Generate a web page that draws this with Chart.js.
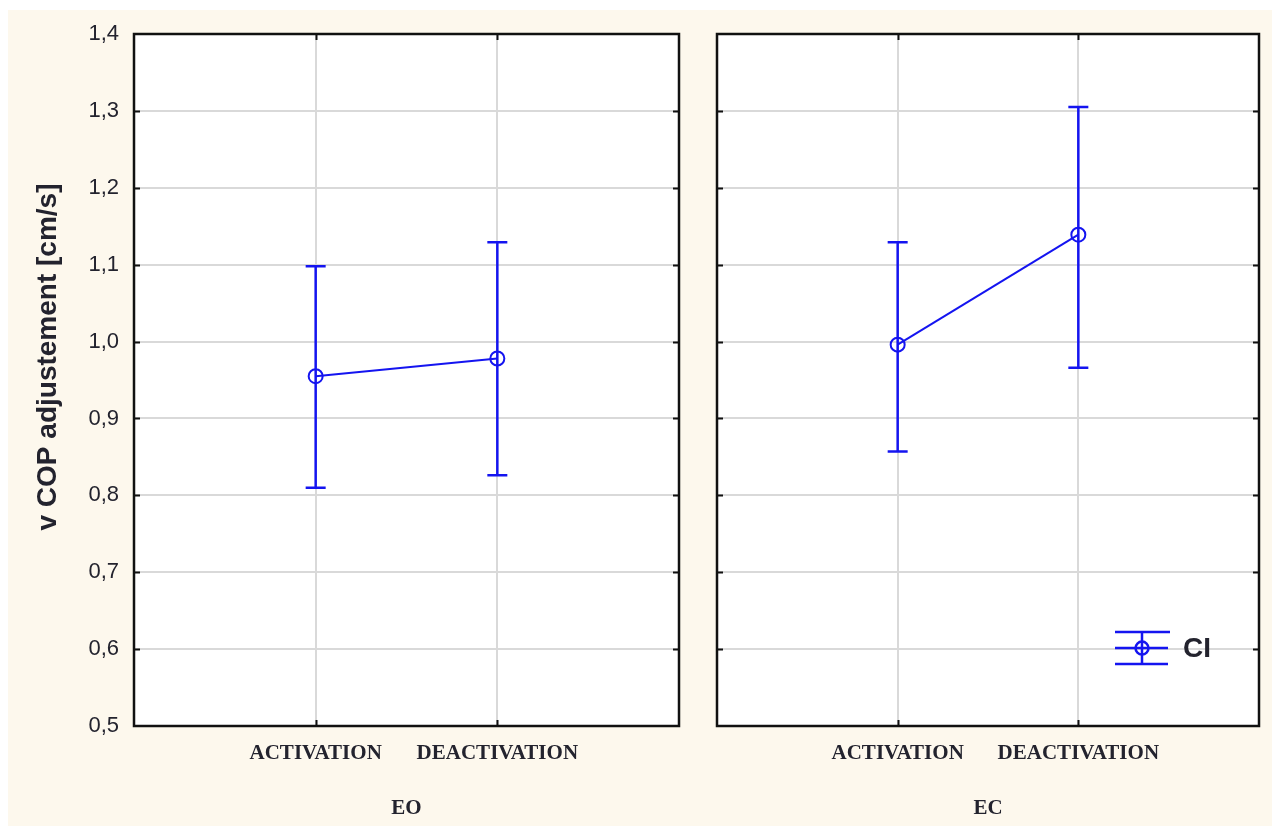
<!DOCTYPE html>
<html>
<head>
<meta charset="utf-8">
<script src="https://cdn.jsdelivr.net/npm/chart.js@4/dist/chart.umd.min.js"></script>
<style>
  html, body { margin: 0; padding: 0; background: #ffffff; }
  body { width: 1272px; height: 829px; position: relative; overflow: hidden; }
  #bg { position: absolute; left: 8px; top: 10px; width: 1264px; height: 816px; background: #fdf8ed; }
  #eo { position: absolute; left: 0; top: 0; }
  #ec { position: absolute; left: 695px; top: 0; }
</style>
</head>
<body>
<div id="bg"></div>
<canvas id="eo" width="695" height="829"></canvas>
<canvas id="ec" width="577" height="829"></canvas>
<script>
// Conditions on the x axis
const categories = ['ACTIVATION', 'DEACTIVATION'];
// Panels (visual condition)
const groups = ['EO', 'EC'];
// Y axis ticks
const yTickValues = [0.5, 0.6, 0.7, 0.8, 0.9, 1.0, 1.1, 1.2, 1.3, 1.4];
const yTickLabels = ['0,5', '0,6', '0,7', '0,8', '0,9', '1,0', '1,1', '1,2', '1,3', '1,4'];
const yTitle = 'v COP adjustement [cm/s]';
const legendLabel = 'CI';

// Means and confidence intervals, eyes open
const eoMean  = [0.955, 0.978];
const eoLower = [0.810, 0.826];
const eoUpper = [1.098, 1.129];
// Means and confidence intervals, eyes closed
const ecMean  = [0.996, 1.139];
const ecLower = [0.857, 0.966];
const ecUpper = [1.129, 1.305];

const BLUE = '#1414f0';
const GRID = '#d9d9d9';
const TEXT = '#23232e';

Chart.defaults.font.family = "'Liberation Sans', Arial, sans-serif";
Chart.defaults.color = TEXT;

// White plotting area
const plotBackground = {
  id: 'plotBackground',
  beforeDraw(chart) {
    const { ctx, chartArea: a } = chart;
    ctx.save();
    ctx.fillStyle = '#ffffff';
    ctx.fillRect(a.left, a.top, a.right - a.left, a.bottom - a.top);
    ctx.restore();
  }
};

// Vertical confidence-interval bars with caps
const errorBars = {
  id: 'errorBars',
  afterDatasetsDraw(chart) {
    const { ctx, scales: { x, y } } = chart;
    chart.data.datasets.forEach(ds => {
      if (!ds.lower) return;
      ctx.save();
      ctx.strokeStyle = BLUE;
      ctx.lineWidth = 2.5;
      ds.data.forEach((p, i) => {
        const px = x.getPixelForValue(p.x);
        const yl = y.getPixelForValue(ds.lower[i]);
        const yu = y.getPixelForValue(ds.upper[i]);
        ctx.beginPath();
        ctx.moveTo(px, yl); ctx.lineTo(px, yu);
        ctx.moveTo(px - 10, yl); ctx.lineTo(px + 10, yl);
        ctx.moveTo(px - 10, yu); ctx.lineTo(px + 10, yu);
        ctx.stroke();
      });
      ctx.restore();
    });
  }
};

// Black frame with inward tick marks on all four sides
const frame = {
  id: 'frame',
  afterDraw(chart) {
    const { ctx, chartArea: a, scales: { x, y } } = chart;
    ctx.save();
    ctx.strokeStyle = '#111111';
    ctx.lineWidth = 2.5;
    ctx.strokeRect(a.left, a.top, a.right - a.left, a.bottom - a.top);
    ctx.lineWidth = 2;
    const t = 6;
    ctx.beginPath();
    y.ticks.forEach(tk => {
      const py = Math.round(y.getPixelForValue(tk.value)) + 0.5;
      if (py <= a.top + 2 || py >= a.bottom - 2) return;
      ctx.moveTo(a.left, py); ctx.lineTo(a.left + t, py);
      ctx.moveTo(a.right, py); ctx.lineTo(a.right - t, py);
    });
    x.ticks.forEach(tk => {
      const px = Math.round(x.getPixelForValue(tk.value)) + 0.5;
      ctx.moveTo(px, a.top); ctx.lineTo(px, a.top + t);
      ctx.moveTo(px, a.bottom); ctx.lineTo(px, a.bottom - t);
    });
    ctx.stroke();
    ctx.restore();
  }
};

// Rotated y axis title
const yAxisTitle = {
  id: 'yAxisTitle',
  afterDraw(chart) {
    const { ctx } = chart;
    ctx.save();
    ctx.translate(48, 357);
    ctx.rotate(-Math.PI / 2);
    ctx.font = "bold 28px 'Liberation Sans', Arial, sans-serif";
    ctx.fillStyle = TEXT;
    ctx.textAlign = 'center';
    ctx.textBaseline = 'middle';
    ctx.fillText(yTitle, 0, 0);
    ctx.restore();
  }
};

// Legend entry for the confidence interval symbol
const ciLegend = {
  id: 'ciLegend',
  afterDraw(chart) {
    const { ctx, chartArea: a, scales: { y } } = chart;
    const cy = y.getPixelForValue(0.6) - 1;
    const x0 = a.right - 144, x1 = a.right - 91, cx = a.right - 117;
    ctx.save();
    ctx.strokeStyle = BLUE;
    ctx.lineWidth = 2.5;
    ctx.beginPath();
    ctx.moveTo(x0, cy - 16); ctx.lineTo(x1 + 2, cy - 16);
    ctx.moveTo(x0, cy); ctx.lineTo(x1, cy);
    ctx.moveTo(x0, cy + 16); ctx.lineTo(x1, cy + 16);
    ctx.moveTo(cx, cy - 16); ctx.lineTo(cx, cy + 16);
    ctx.stroke();
    ctx.beginPath();
    ctx.arc(cx, cy, 6.5, 0, Math.PI * 2);
    ctx.stroke();
    ctx.font = "bold 28px 'Liberation Sans', Arial, sans-serif";
    ctx.fillStyle = TEXT;
    ctx.textAlign = 'left';
    ctx.textBaseline = 'middle';
    ctx.fillText(legendLabel, a.right - 76, cy + 1);
    ctx.restore();
  }
};

function makePanel(canvasId, group, mean, lower, upper, opts) {
  return new Chart(document.getElementById(canvasId), {
    type: 'line',
    data: {
      datasets: [{
        label: legendLabel,
        data: categories.map((c, i) => ({ x: i + 1, y: mean[i] })),
        lower: lower,
        upper: upper,
        borderColor: BLUE,
        borderWidth: 2,
        tension: 0,
        pointRadius: 7,
        pointBorderWidth: 2,
        pointBorderColor: BLUE,
        pointBackgroundColor: 'rgba(0,0,0,0)',
        clip: false
      }]
    },
    options: {
      responsive: false,
      animation: false,
      events: [],
      layout: { padding: { top: 34, right: opts.padRight, left: 0, bottom: 0 } },
      plugins: { legend: { display: false }, tooltip: { enabled: false } },
      scales: {
        x: {
          type: 'linear',
          min: 0, max: categories.length + 1,
          afterBuildTicks: s => { s.ticks = categories.map((c, i) => ({ value: i + 1 })); },
          afterFit: s => { s.height = 103; },
          grid: { color: GRID, lineWidth: 2, drawTicks: false },
          border: { display: false },
          ticks: {
            autoSkip: false, maxRotation: 0, padding: 15,
            color: TEXT,
            font: { family: "'Liberation Serif', 'Times New Roman', serif", weight: 'bold', size: 21 },
            callback: (v, i) => categories[i]
          },
          title: {
            display: true, text: group, color: TEXT,
            padding: { top: 0, bottom: 8 },
            font: { family: "'Liberation Serif', 'Times New Roman', serif", weight: 'bold', size: 21 }
          }
        },
        y: {
          type: 'linear',
          min: 0.5, max: 1.4,
          afterBuildTicks: s => { s.ticks = yTickValues.map(v => ({ value: v })); },
          afterFit: s => { s.width = opts.axisWidth; },
          grid: { color: GRID, lineWidth: 2, drawTicks: false },
          border: { display: false },
          ticks: {
            display: opts.showLabels, padding: 15, color: TEXT,
            font: { size: 22 },
            callback: (v, i) => yTickLabels[i]
          }
        }
      }
    },
    plugins: opts.plugins
  });
}

makePanel('eo', groups[0], eoMean, eoLower, eoUpper, {
  padRight: 16, axisWidth: 134, showLabels: true,
  plugins: [plotBackground, errorBars, frame, yAxisTitle]
});
makePanel('ec', groups[1], ecMean, ecLower, ecUpper, {
  padRight: 13, axisWidth: 22, showLabels: false,
  plugins: [plotBackground, errorBars, frame, ciLegend]
});
</script>
</body>
</html>
